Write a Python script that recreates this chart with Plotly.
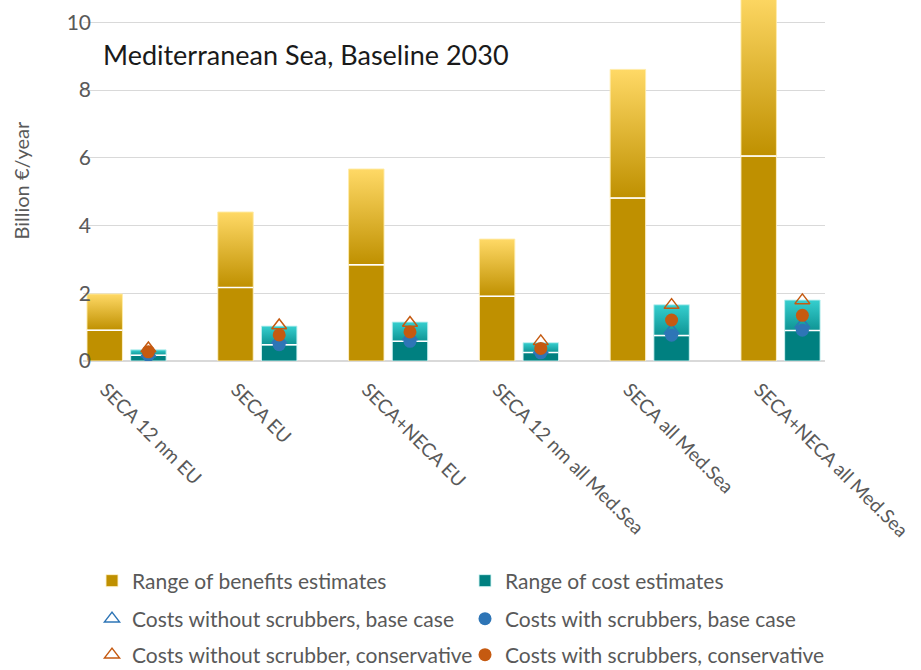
import plotly.graph_objects as go

# Scenario categories
categories = ["SECA 12 nm EU", "SECA EU", "SECA+NECA EU",
              "SECA 12 nm all Med.Sea", "SECA all Med.Sea", "SECA+NECA all Med.Sea"]

# Benefit range (billion EUR / year)
benefit_low = [0.91, 2.17, 2.84, 1.91, 4.81, 6.05]
benefit_high = [1.98, 4.40, 5.67, 3.60, 8.61, 10.9]

# Cost range (billion EUR / year)
cost_low = [0.17, 0.48, 0.58, 0.25, 0.75, 0.90]
cost_high = [0.33, 1.03, 1.15, 0.54, 1.66, 1.80]

# Cost point estimates
no_scrub_base = [0.22, 0.62, 0.72, 0.32, 0.90, 1.08]
scrub_base = [0.17, 0.48, 0.58, 0.24, 0.76, 0.91]
no_scrub_cons = [0.37, 1.05, 1.12, 0.58, 1.65, 1.79]
scrub_cons = [0.27, 0.77, 0.86, 0.37, 1.21, 1.35]

FONT = "Lato"
GREY = "#595959"
GOLD = "#BF9000"
GOLD_LIGHT = "#FFD966"
TEAL = "#008080"
TEAL_LIGHT = "#36CFCF"
BLUE = "#2E75B6"
ORANGE = "#C55A11"

W, H = 921, 670
ML, MR, MT, MB = 83, 96, 0, 309
PW, PH = W - ML - MR, H - MT - MB

pos = list(range(len(categories)))
BW = 0.271      # bar width in category units
SHIFT = 0.167   # half distance between the two bars of a pair
ben_x = [p - SHIFT for p in pos]
cost_x = [p + SHIFT for p in pos]

fig = go.Figure()

# Solid lower parts of the ranges
fig.add_trace(go.Bar(
    x=ben_x, y=benefit_low, base=0, width=BW,
    marker=dict(color=GOLD, line=dict(color="rgba(255,242,204,0.9)", width=1)),
    name="Range of benefits estimates", legend="legend"))
fig.add_trace(go.Bar(
    x=cost_x, y=cost_low, base=0, width=BW,
    marker=dict(color=TEAL, line=dict(color="rgba(210,245,245,0.9)", width=1)),
    name="Range of cost estimates", legend="legend2"))


def gradient_block(xc, lo, hi, c_bottom, c_top, edge):
    for x, a, b in zip(xc, lo, hi):
        xl, xr = x - BW / 2, x + BW / 2
        fig.add_trace(go.Scatter(
            x=[xl, xr, xr, xl, xl], y=[a, a, b, b, a],
            mode="lines", fill="toself",
            line=dict(color=edge, width=1),
            fillgradient=dict(type="vertical", start=a, stop=b,
                              colorscale=[[0, c_bottom], [1, c_top]]),
            showlegend=False, hoverinfo="skip"))
        # separator between the solid and graded parts
        fig.add_trace(go.Scatter(
            x=[xl, xr], y=[a, a], mode="lines",
            line=dict(color="white", width=1.5),
            showlegend=False, hoverinfo="skip"))


gradient_block(ben_x, benefit_low, benefit_high, GOLD, GOLD_LIGHT, "rgba(255,236,170,0.9)")
gradient_block(cost_x, cost_low, cost_high, "#0E9494", TEAL_LIGHT, "rgba(190,240,240,0.9)")

# Point estimates on the cost bars
fig.add_trace(go.Scatter(
    x=cost_x, y=scrub_base, mode="markers",
    marker=dict(symbol="circle", size=13, color=BLUE),
    name="Costs with scrubbers, base case", legend="legend4"))
fig.add_trace(go.Scatter(
    x=cost_x, y=no_scrub_base, mode="markers",
    marker=dict(symbol="triangle-up-open", size=13, color=BLUE, line=dict(width=1.5)),
    name="Costs without scrubbers, base case", legend="legend3"))
fig.add_trace(go.Scatter(
    x=cost_x, y=no_scrub_cons, mode="markers",
    marker=dict(symbol="triangle-up-open", size=13, color=ORANGE, line=dict(width=1.5)),
    name="Costs without scrubber, conservative", legend="legend5"))
fig.add_trace(go.Scatter(
    x=cost_x, y=scrub_cons, mode="markers",
    marker=dict(symbol="circle", size=13, color=ORANGE),
    name="Costs with scrubbers, conservative", legend="legend6"))

# One legend box per entry, laid out as a 2-column grid below the axis labels
COL_X = [92, 465]
ROW_Y = [581, 619, 655]


def legend_box(col, row):
    return dict(
        xref="paper", yref="paper",
        x=(COL_X[col] - ML) / PW, y=(MT + PH - ROW_Y[row]) / PH,
        xanchor="left", yanchor="middle",
        font=dict(family=FONT, size=21, color=GREY),
        itemwidth=30, bgcolor="rgba(0,0,0,0)")


fig.update_layout(
    width=W, height=H,
    margin=dict(l=ML, r=MR, t=MT, b=MB, autoexpand=False),
    plot_bgcolor="white", paper_bgcolor="white",
    barmode="overlay", showlegend=True,
    font=dict(family=FONT, color=GREY),
    legend=legend_box(0, 0), legend2=legend_box(1, 0),
    legend3=legend_box(0, 1), legend4=legend_box(1, 1),
    legend5=legend_box(0, 2), legend6=legend_box(1, 2),
    xaxis=dict(
        range=[-0.333, 5.34], tickmode="array", tickvals=pos, ticktext=categories,
        tickangle=45, showgrid=False, zeroline=False, showline=False,
        tickfont=dict(family=FONT, size=19, color=GREY), ticklabelshift=-21,
        ticklabelstandoff=13),
    yaxis=dict(
        range=[0, 10.66], tickvals=[0, 2, 4, 6, 8, 10],
        showgrid=True, gridcolor="#D9D9D9", gridwidth=1,
        zeroline=True, zerolinecolor="#D9D9D9", zerolinewidth=1.5,
        tickfont=dict(family=FONT, size=21, color=GREY), ticklabelstandoff=-9),
    annotations=[
        dict(text="Mediterranean Sea, Baseline 2030", xref="paper", yref="paper",
             x=(101 - ML) / PW, y=(MT + PH - 55) / PH, xanchor="left", yanchor="middle",
             showarrow=False, font=dict(family=FONT, size=27, color="#1a1a1a")),
        dict(text="Billion €/year", xref="paper", yref="paper",
             x=(20 - ML) / PW, y=0.5, xanchor="center", yanchor="middle",
             textangle=-90, showarrow=False,
             font=dict(family=FONT, size=20, color=GREY)),
    ],
)

fig.write_html("out.html")
